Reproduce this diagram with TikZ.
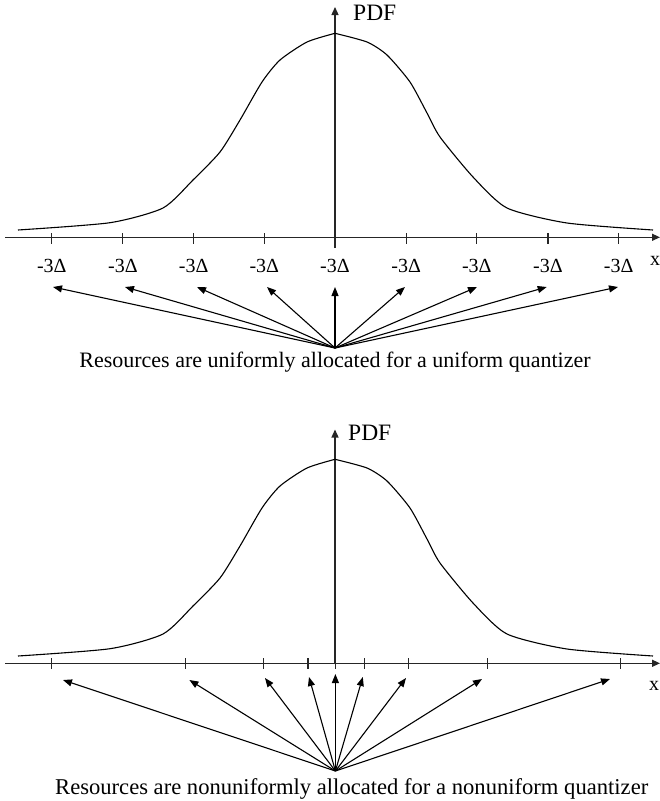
\documentclass[tikz,border=0pt]{standalone}
\usepackage{fontspec}
\setmainfont{Liberation Serif}
\usetikzlibrary{arrows.meta}

% bell shaped density, drawn in two halves
\newcommand{\bellcurve}{%
  \draw[curve] plot[smooth, tension=0.4] coordinates {(18,230) (110,222.7) (163,208) (193,180) (220,152) (240,120) (262,82) (280,60) (307,42) (335,33.3)};
  \draw[curve] plot[smooth, tension=0.4] coordinates {(335,33.3) (367,42) (387,55) (410,82) (427,113) (440,137) (473,177) (507,208) (567,223) (653,230)};}

\begin{document}
\begin{tikzpicture}[x=1pt, y=-1pt,
    axis/.style={line width=1.3pt, draw=black!85, -{Triangle[length=8pt, width=7pt]}},
    tickmark/.style={line width=1.1pt, draw=black!85},
    curve/.style={line width=1.1pt},
    alloc/.style={line width=1.1pt, -{Triangle[length=9pt, width=7pt]}},
    lbl/.style={inner sep=0pt, font=\fontsize{20}{24}\selectfont},
    axlbl/.style={inner sep=0pt, font=\fontsize{23.5}{28}\selectfont},
    caption/.style={inner sep=0pt, font=\fontsize{22}{26}\selectfont}
]
\useasboundingbox (0,0) rectangle (660,801);

% uniform quantizer
\coordinate (xl1) at (5,237.3);
\coordinate (xr1) at (660,237.3);
\coordinate (yb1) at (335,248);
\coordinate (yt1) at (335,7);
\draw[axis] (xl1) -- (xr1);
\draw[axis] (yb1) -- (yt1);
\bellcurve
\node[axlbl, anchor=base west] (pdf1) at (353,20) {PDF};
\node[lbl, anchor=base] (x1) at (655,265) {x};
\coordinate (src1) at (335,348);
\foreach \i/\t/\h in {1/51.8/53, 2/122.9/125, 3/193.6/197, 4/264.3/267, 5/335/335, 6/406.1/405, 7/476.8/477, 8/548/546.7, 9/618.7/618} {
  \draw[tickmark] (\t,233) -- (\t,244);
  \node[lbl, anchor=base] (lab1-\i) at (\t,272) {-3Δ};
  \coordinate (tip1-\i) at (\h,287);
  \draw[alloc] (src1) -- (tip1-\i);
}
\node[caption, anchor=base] (cap1) at (335,367) {Resources are uniformly allocated for a uniform quantizer};

% nonuniform quantizer
\coordinate (xl2) at (5,663.3);
\coordinate (xr2) at (660,663.3);
\coordinate (yb2) at (335,663.3);
\coordinate (yt2) at (335,429.5);
\draw[axis] (xl2) -- (xr2);
\draw[axis] (yb2) -- (yt2);
\begin{scope}[shift={(0,426)}]
  \bellcurve
\end{scope}
\node[axlbl, anchor=base west] (pdf2) at (348,440) {PDF};
\node[lbl, anchor=base] (x2) at (654,690) {x};
\coordinate (src2) at (335.4,771);
\foreach \i/\t/\h/\v in {1/51.8/63/680, 2/185.2/189.4/680, 3/263.9/265/678, 4/308/309/677, 5/335.4/335.4/674, 6/364.5/362.8/677, 7/408.7/406/678, 8/487.4/482/679, 9/620.8/610/679} {
  \draw[tickmark] (\t,658) -- (\t,669);
  \coordinate (tip2-\i) at (\h,\v);
  \draw[alloc] (src2) -- (tip2-\i);
}
\node[caption, font=\fontsize{22.6}{27}\selectfont, anchor=base west] (cap2) at (55,794) {Resources are nonuniformly allocated for a nonuniform quantizer};

\end{tikzpicture}
\end{document}
